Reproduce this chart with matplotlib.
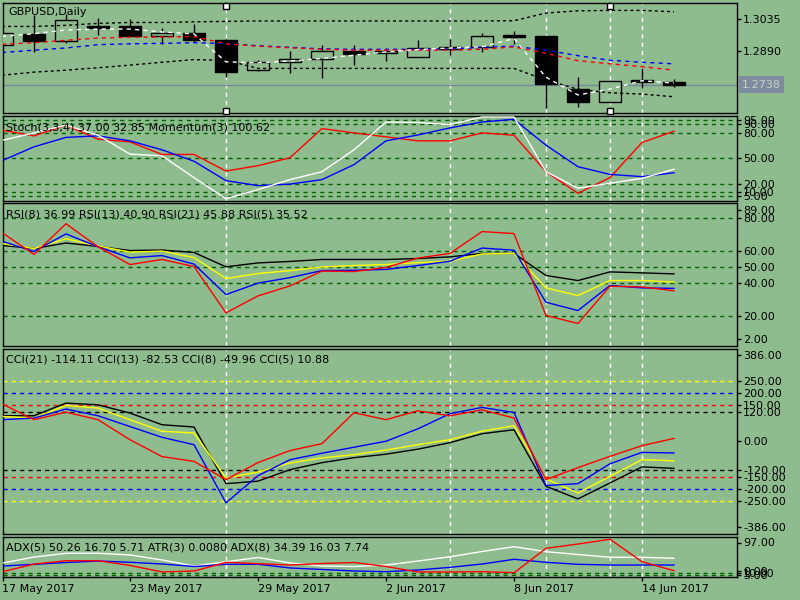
import matplotlib
matplotlib.use("Agg")
import matplotlib.pyplot as plt
import numpy as np

BG = "#8fbc8f"
LEVEL = "#006400"

# GBPUSD daily candles, 17 May - 15 Jun 2017
opens  = [1.2917, 1.2970, 1.2937, 1.3005, 1.3003, 1.2961, 1.2972, 1.2943, 1.2805, 1.2839, 1.2857,
          1.2891, 1.2880, 1.2862, 1.2901, 1.2910, 1.2964, 1.2959, 1.2718, 1.2660, 1.2759, 1.2750]
highs  = [1.2975, 1.3053, 1.3058, 1.3043, 1.3035, 1.2997, 1.3016, 1.2944, 1.2849, 1.2890, 1.2917,
          1.2917, 1.2902, 1.2940, 1.2948, 1.2973, 1.2981, 1.2959, 1.2772, 1.2754, 1.2816, 1.2763]
lows   = [1.2915, 1.2887, 1.2928, 1.2964, 1.2958, 1.2923, 1.2932, 1.2771, 1.2801, 1.2792, 1.2769,
          1.2828, 1.2846, 1.2862, 1.2872, 1.2887, 1.2925, 1.2633, 1.2638, 1.2660, 1.2724, 1.2728]
closes = [1.2972, 1.2937, 1.3034, 1.2997, 1.2959, 1.2972, 1.2943, 1.2796, 1.2840, 1.2857, 1.2890,
          1.2877, 1.2891, 1.2904, 1.2911, 1.2958, 1.2955, 1.2742, 1.2660, 1.2754, 1.2751, 1.2738]

ma_white = [1.2958, 1.2970, 1.2987, 1.2991, 1.2991, 1.2978, 1.2969, 1.2842, 1.2838, 1.2846, 1.2857,
            1.2872, 1.2887, 1.2898, 1.2905, 1.2910, 1.2948, 1.2772, 1.2691, 1.2718, 1.2756, 1.2745]
ma_red = [1.2922, 1.2929, 1.2940, 1.2950, 1.2954, 1.2955, 1.2957, 1.2924, 1.2913, 1.2906, 1.2899,
          1.2895, 1.2895, 1.2895, 1.2895, 1.2899, 1.2910, 1.2881, 1.2847, 1.2833, 1.2820, 1.2804]
ma_blue = [1.2884, 1.2895, 1.2905, 1.2920, 1.2924, 1.2926, 1.2929, 1.2925, 1.2915, 1.2908, 1.2901,
           1.2899, 1.2899, 1.2899, 1.2901, 1.2908, 1.2913, 1.2895, 1.2870, 1.2849, 1.2840, 1.2833]
bb_upper = [1.3003, 1.3003, 1.3008, 1.3017, 1.3021, 1.3021, 1.3024, 1.3026, 1.3028, 1.3028, 1.3028,
            1.3028, 1.3028, 1.3028, 1.3028, 1.3028, 1.3029, 1.3064, 1.3074, 1.3076, 1.3076, 1.3070]
bb_lower = [1.2781, 1.2795, 1.2804, 1.2815, 1.2827, 1.2840, 1.2852, 1.2849, 1.2812, 1.2812, 1.2812,
            1.2812, 1.2812, 1.2812, 1.2812, 1.2812, 1.2812, 1.2759, 1.2717, 1.2701, 1.2695, 1.2683]

# Stochastic / momentum window
stoch_main = [71.1, 80.0, 89.1, 77.3, 54.9, 52.9, 27.1, 2.0, 12.9, 24.7, 34.1,
              60.0, 92.9, 92.4, 89.8, 98.8, 98.8, 34.1, 14.5, 20.4, 26.2, 37.00]
stoch_signal = [47.1, 63.5, 74.7, 76.5, 70.6, 60.0, 46.5, 23.5, 17.6, 19.4, 24.7,
                42.4, 70.6, 77.6, 85.9, 92.9, 96.1, 65.5, 40.0, 30.9, 28.2, 32.85]
momentum = [83.2, 76.5, 89.1, 72.6, 69.4, 54.5, 54.5, 34.9, 41.2, 50.6, 85.1,
            80.0, 75.3, 70.6, 70.6, 80.0, 77.3, 34.1, 8.6, 27.1, 68.6, 82.0]
stoch_levels = [95, 90, 80, 50, 20, 10, 5]

# RSI window
rsi5 = [71.2, 57.8, 76.6, 62.5, 51.6, 54.7, 50.4, 22.0, 32.4, 38.5, 47.6,
        47.3, 49.8, 55.6, 58.4, 71.8, 70.6, 20.4, 15.5, 38.3, 37.9, 35.52]
rsi8 = [65.9, 59.6, 70.4, 62.5, 55.7, 57.1, 51.9, 33.2, 40.2, 43.6, 47.9,
        48.1, 48.6, 51.0, 53.6, 61.7, 60.4, 28.5, 23.4, 38.8, 37.3, 36.99]
rsi13 = [64.5, 61.4, 67.4, 63.0, 59.2, 59.8, 55.9, 43.0, 46.1, 47.9, 50.1,
         51.0, 51.6, 52.8, 53.6, 58.1, 58.4, 37.3, 32.6, 41.8, 41.8, 40.90]
rsi21 = [63.3, 61.4, 64.8, 62.7, 60.2, 60.5, 59.0, 50.2, 52.6, 53.5, 54.7,
         54.7, 54.7, 55.3, 56.3, 58.4, 58.4, 44.9, 41.8, 47.1, 46.5, 45.88]
rsi_levels = [80, 60, 50, 40, 20]
rsi_range = (2, 89)

# CCI window
cci5 = [155.4, 89, 120.4, 89, 5.4, -65, -85, -161, -90, -40, -11,
        117.9, 89, 126, 105, 130, 96, -161, -111, -64, -19.6, 10.88]
cci8 = [88.8, 95.8, 133.3, 105.4, 60.4, 15.4, -15.4, -258, -145, -78, -51,
        -26, -1, 51, 114, 140, 119, -186, -178, -95, -47.5, -49.96]
cci13 = [102.5, 95.8, 148.3, 137.5, 88.8, 40.8, 33.3, -154, -130, -91.7, -70.8,
         -57, -38, -15.4, 5.4, 40.8, 63.8, -158, -217, -147.5, -78, -82.53]
cci21 = [105.4, 105.4, 158.3, 151, 116.7, 67.9, 58.3, -178, -167.5, -119.6, -90.4,
         -69.6, -55, -34, -7, 30.4, 47, -189, -241.7, -175, -108, -114.11]
cci_levels = {250: "yellow", 200: "blue", 150: "red", 120: "black"}
cci_range = (-386, 386)

# ADX window
adx_white = [33.5, 47.9, 56.8, 56.8, 52.7, 40.7, 26.3, 36.6, 46.7, 33.5, 26.3,
             25.1, 28.7, 38.3, 48.6, 61.1, 72.6, 60.6, 53.9, 47.2, 47.2, 44.8]
adx_red = [12.7, 31.1, 39.0, 39.0, 27.5, 12.0, 14.4, 35.2, 31.9, 28.7, 32.3,
           34.7, 25.1, 12.0, 12.0, 12.7, 10.3, 68.7, 79.0, 90.3, 36.6, 15.1]
adx_blue = [26.3, 30.4, 34.7, 38.3, 35.2, 31.1, 25.1, 30.4, 30.4, 21.6, 18.0,
            14.4, 12.7, 16.8, 23.2, 31.1, 42.4, 35.2, 30.4, 28.7, 28.7, 28.7]
adx_levels = [10, 5]
adx_range = (0, 97)

date_ticks = [0, 4, 8, 12, 16, 20]
date_labels = ["17 May 2017", "23 May 2017", "29 May 2017", "2 Jun 2017", "8 Jun 2017", "14 Jun 2017"]
vline_bars = [7, 14, 17, 19, 20]

x = np.arange(len(closes))
W, H = 800, 600
LEFT, RIGHT = 2.5, 737
DASH = (0, (3, 3))

fig = plt.figure(figsize=(8, 6), dpi=100, facecolor=BG)
plt.rcParams["font.family"] = "DejaVu Sans"


def make_panel(top, bottom):
    ax = fig.add_axes([LEFT / W, 1 - bottom / H, (RIGHT - LEFT) / W, (bottom - top) / H])
    ax.set_facecolor(BG)
    ax.set_xlim(0.016, 22.97)
    for s in ax.spines.values():
        s.set_color("black")
        s.set_linewidth(1)
    ax.yaxis.tick_right()
    ax.tick_params(axis="y", direction="out", length=3, width=1, labelsize=8, pad=1.5, colors="black")
    ax.tick_params(axis="x", bottom=False, labelbottom=False)
    for v in vline_bars:
        ax.axvline(v, color="white", lw=1, ls=DASH, zorder=1)
    return ax


def title(ax, text, dx=3.5, dy=-11):
    ax.annotate(text, xy=(0, 1), xycoords="axes fraction", xytext=(dx, dy),
                textcoords="offset pixels", ha="left", va="center", fontsize=8, color="black")


def set_ticks(ax, lo, hi, px, levels, off=6.5):
    upp = (hi - lo) / px
    pos = [hi - off * upp] + list(levels) + [lo + off * upp]
    labs = [f"{hi:.2f}"] + [f"{v:.2f}" for v in levels] + [f"{lo:.2f}"]
    ax.set_ylim(lo, hi)
    ax.set_yticks(pos)
    ax.set_yticklabels(labs)


# ---- price panel ----
ax = make_panel(2.5, 113)
ax.set_ylim(1.2609, 1.3112)
o, h, l, c = map(np.array, (opens, highs, lows, closes))
ax.axhline(closes[-1], color="#778899", lw=1, zorder=1)
ax.vlines(x, l, h, color="black", lw=1, zorder=2)
up = c >= o
ax.bar(x[up], (c - o)[up], bottom=o[up], width=0.7, facecolor=BG, edgecolor="black", lw=1, zorder=3)
ax.bar(x[~up], (o - c)[~up], bottom=c[~up], width=0.7, facecolor="black", edgecolor="black", lw=1, zorder=3)
ax.plot(x, bb_upper, color="black", lw=1, ls=(0, (2.2, 2.2)), zorder=4)
ax.plot(x, bb_lower, color="black", lw=1, ls=(0, (2.2, 2.2)), zorder=4)
ax.plot(x, ma_blue, color="blue", lw=1, ls=DASH, zorder=4)
ax.plot(x, ma_red, color="red", lw=1, ls=DASH, zorder=4)
ax.plot(x, ma_white, color="white", lw=1, ls=DASH, zorder=5)
ax.set_yticks([1.3035, 1.2890])
ax.set_yticklabels(["1.3035", "1.2890"])
ax.annotate(f"{closes[-1]:.4f}", xy=(1, closes[-1]), xycoords=ax.get_yaxis_transform(),
            xytext=(5, 0), textcoords="offset pixels", ha="left", va="center", fontsize=8,
            color="#c4d2c4", bbox=dict(boxstyle="square,pad=0.3", fc="#7f8c9f", ec="none"),
            annotation_clip=False)
for v in (7, 19):
    ax.plot([v, v], [0.971, 0.018], transform=ax.get_xaxis_transform(), ls="none", marker="s",
            ms=4, mfc="white", mec="black", mew=1, clip_on=False, zorder=6)
title(ax, "GBPUSD,Daily", dx=5.5, dy=-9.5)

# ---- stochastic panel ----
ax = make_panel(116, 200.5)
ax.set_ylim(0, 100)
for v in stoch_levels:
    ax.axhline(v, color=LEVEL, lw=1, ls=DASH, zorder=1)
ax.plot(x, momentum, color="red", lw=1, zorder=3)
ax.plot(x, stoch_signal, color="blue", lw=1, zorder=3)
ax.plot(x, stoch_main, color="white", lw=1, zorder=3)
ax.set_yticks(stoch_levels)
ax.set_yticklabels([f"{v:.2f}" for v in stoch_levels])
title(ax, "Stoch(3,3,4) 37.00 32.85 Momentum(3) 100.62")

# ---- RSI panel ----
ax = make_panel(203.5, 345.5)
for v in rsi_levels:
    ax.axhline(v, color=LEVEL, lw=1, ls=DASH, zorder=1)
ax.plot(x, rsi21, color="black", lw=1, zorder=3)
ax.plot(x, rsi13, color="yellow", lw=1, zorder=3)
ax.plot(x, rsi8, color="blue", lw=1, zorder=3)
ax.plot(x, rsi5, color="red", lw=1, zorder=3)
set_ticks(ax, rsi_range[0], rsi_range[1], 142, rsi_levels)
title(ax, "RSI(8) 36.99 RSI(13) 40.90 RSI(21) 45.88 RSI(5) 35.52", dy=-11.5)

# ---- CCI panel ----
ax = make_panel(348.5, 533.5)
for v, col in cci_levels.items():
    ax.axhline(v, color=col, lw=1, ls=DASH, zorder=1)
    ax.axhline(-v, color=col, lw=1, ls=DASH, zorder=1)
ax.plot(x, cci21, color="black", lw=1, zorder=3)
ax.plot(x, cci13, color="yellow", lw=1, zorder=3)
ax.plot(x, cci8, color="blue", lw=1, zorder=3)
ax.plot(x, cci5, color="red", lw=1, zorder=3)
cci_ticks = sorted(list(cci_levels) + [0] + [-v for v in cci_levels], reverse=True)
set_ticks(ax, cci_range[0], cci_range[1], 185, cci_ticks)
title(ax, "CCI(21) -114.11 CCI(13) -82.53 CCI(8) -49.96 CCI(5) 10.88", dy=-11.5)

# ---- ADX panel ----
ax = make_panel(536.5, 577)
for v in adx_levels:
    ax.axhline(v, color=LEVEL, lw=1, ls=DASH, zorder=1)
ax.plot(x, adx_white, color="white", lw=1, zorder=3)
ax.plot(x, adx_blue, color="blue", lw=1, zorder=3)
ax.plot(x, adx_red, color="red", lw=1, zorder=3)
set_ticks(ax, adx_range[0], adx_range[1], 40.5, adx_levels, off=6)
title(ax, "ADX(5) 50.26 16.70 5.71 ATR(3) 0.0080 ADX(8) 34.39 16.03 7.74", dy=-10.5)
ax.set_xticks(date_ticks)
ax.set_xticklabels(date_labels, ha="left")
ax.tick_params(axis="x", bottom=True, labelbottom=True, direction="out", length=3, width=1,
               pad=2, labelsize=8, colors="black")

fig.savefig("out.png", dpi=100, facecolor=BG)
